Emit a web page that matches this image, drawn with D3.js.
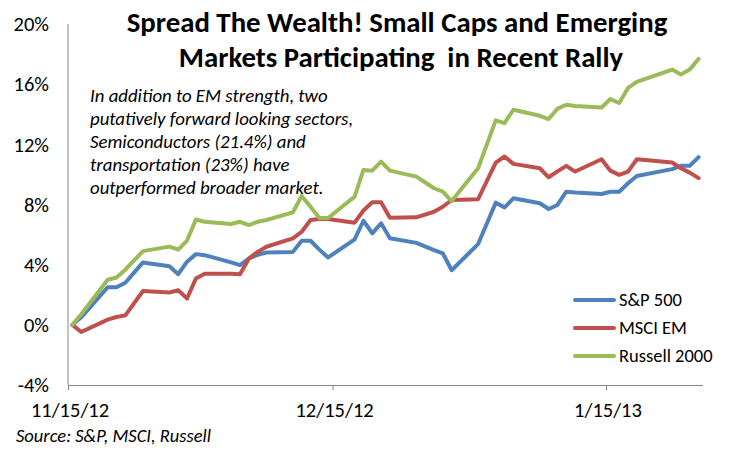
<!DOCTYPE html>
<html>
<head>
<meta charset="utf-8">
<script src="https://cdn.jsdelivr.net/npm/d3@7"></script>
<style>
  html, body { margin: 0; padding: 0; background: #fff; }
  svg { display: block; }
  text { font-family: Carlito, Calibri, Lato, "Open Sans", sans-serif; }
</style>
</head>
<body>
<svg id="chart" width="750" height="451"></svg>
<script>
// ---- data ----
const dates = ["2012-11-15","2012-11-16","2012-11-19","2012-11-20","2012-11-21","2012-11-23",
  "2012-11-26","2012-11-27","2012-11-28","2012-11-29","2012-11-30",
  "2012-12-03","2012-12-04","2012-12-05","2012-12-06","2012-12-07",
  "2012-12-10","2012-12-11","2012-12-12","2012-12-13","2012-12-14",
  "2012-12-17","2012-12-18","2012-12-19","2012-12-20","2012-12-21",
  "2012-12-24","2012-12-26","2012-12-27","2012-12-28","2012-12-31",
  "2013-01-02","2013-01-03","2013-01-04","2013-01-07","2013-01-08","2013-01-09","2013-01-10","2013-01-11",
  "2013-01-14","2013-01-15","2013-01-16","2013-01-17","2013-01-18",
  "2013-01-22","2013-01-23","2013-01-24","2013-01-25"];

const sp500 = [0, 0.5, 2.5, 2.5, 2.8, 4.15,
  3.9, 3.37, 4.2, 4.7, 4.63,
  4.15, 3.97, 4.41, 4.65, 4.81,
  4.85, 5.59, 5.59, 5.0, 4.48,
  5.68, 6.92, 6.08, 6.75, 5.75,
  5.45, 4.97, 4.75, 3.63, 5.37,
  8.12, 7.81, 8.41, 8.08, 7.7, 7.97, 8.85, 8.8,
  8.7, 8.85, 8.85, 9.41, 9.9,
  10.35, 10.57, 10.57, 11.15];

const msciEM = [0, -0.48, 0.35, 0.52, 0.63, 2.25,
  2.15, 2.3, 1.75, 3.08, 3.4,
  3.4, 3.37, 4.4, 4.85, 5.19,
  5.75, 6.19, 6.97, 7.03, 7.03,
  6.79, 7.6, 8.15, 8.15, 7.12,
  7.15, 7.52, 7.85, 8.3, 8.35,
  10.79, 11.19, 10.7, 10.41, 9.81, 10.2, 10.57, 10.19,
  11.01, 10.25, 9.97, 10.19, 11.01,
  10.79, 10.41, 10.12, 9.75];

const russell2000 = [0, 0.7, 3.0, 3.15, 3.67, 4.9,
  5.2, 5.0, 5.6, 7.0, 6.85,
  6.7, 6.85, 6.63, 6.85, 6.97,
  7.48, 8.57, 7.85, 7.1, 7.1,
  8.52, 10.3, 10.25, 10.85, 10.25,
  9.85, 9.08, 8.85, 8.23, 10.41,
  13.59, 13.41, 14.3, 13.9, 13.68, 14.37, 14.63, 14.55,
  14.45, 15.01, 14.75, 15.75, 16.15,
  16.97, 16.65, 16.97, 17.68];

const seriesNames = ["S&P 500", "MSCI EM", "Russell 2000"];
const seriesColors = ["#4F81BD", "#C0504D", "#9BBB59"];
const yTicks = [-4, 0, 4, 8, 12, 16, 20];
const xTickDates = ["2012-11-15", "2012-12-15", "2013-01-15"];
const xTickLabels = ["11/15/12", "12/15/12", "1/15/13"];
const titleLines = ["Spread The Wealth! Small Caps and Emerging", "Markets Participating  in Recent Rally"];
const noteLines = ["In addition to EM strength, two", "putatively forward looking sectors,",
  "Semiconductors (21.4%) and", "transportation (23%) have", "outperformed broader market."];
const sourceText = "Source: S&P, MSCI, Russell";

// ---- chart ----
const parse = d3.utcParse("%Y-%m-%d");
const HALF_DAY = 12 * 3600 * 1000;
const svg = d3.select("#chart");

const x = d3.scaleUtc()
  .domain([parse("2012-11-15"), parse("2013-01-26")])
  .range([68, 703]);
const y = d3.scaleLinear().domain([-4, 20]).range([385, 24]);

const axisColor = "#868686";

// y axis line
svg.append("line").attr("x1", 68).attr("x2", 68).attr("y1", y(20)).attr("y2", y(-4))
  .attr("stroke", axisColor).attr("stroke-width", 1);

// y tick labels
svg.append("g").selectAll("text").data(yTicks).join("text")
  .attr("x", 49).attr("y", d => y(d)).attr("dy", "0.35em")
  .attr("text-anchor", "end").attr("font-size", 20.5).attr("fill", "#000")
  .text(d => d + "%");

// x axis
const xAxis = d3.axisBottom(x)
  .tickValues(xTickDates.map(parse))
  .tickSize(5).tickFormat("");
const gx = svg.append("g").attr("transform", `translate(0,${y(-4)})`).call(xAxis);
gx.select(".domain").attr("stroke", axisColor).attr("d", `M68,0.5H703`);
gx.selectAll(".tick line").attr("stroke", axisColor);

svg.append("g").selectAll("text").data(xTickDates).join("text")
  .attr("x", (d) => x(parse(d)) + 2)
  .attr("y", 417).attr("text-anchor", "middle").attr("font-size", 20.5)
  .text((d, i) => xTickLabels[i]);

// lines (series order: blue, red, green on top)
const allSeries = [sp500, msciEM, russell2000];
const line = d3.line()
  .x((d, i) => x(new Date(parse(dates[i]).getTime() + HALF_DAY)))
  .y(d => y(d));
allSeries.forEach((s, k) => {
  svg.append("path").datum(s)
    .attr("d", line)
    .attr("fill", "none")
    .attr("stroke", seriesColors[k])
    .attr("stroke-width", 4)
    .attr("stroke-linejoin", "round")
    .attr("stroke-linecap", "round");
});

// title
svg.append("g").selectAll("text").data(titleLines).join("text")
  .attr("x", (d, i) => i === 0 ? 397 : 401).attr("y", (d, i) => 32 + i * 35)
  .attr("text-anchor", "middle").attr("font-size", 28.8).attr("font-weight", "bold")
  .style("white-space", "pre")
  .text(d => d);

// annotation
svg.append("g").selectAll("text").data(noteLines).join("text")
  .attr("x", 90).attr("y", (d, i) => 101.5 + i * 23.2)
  .attr("font-size", 18.8).attr("font-style", "italic")
  .text(d => d);

// legend
const legY = [300, 328, 356];
const leg = svg.append("g");
seriesNames.forEach((n, k) => {
  leg.append("line").attr("x1", 575).attr("x2", 614).attr("y1", legY[k]).attr("y2", legY[k])
    .attr("stroke", seriesColors[k]).attr("stroke-width", 4).attr("stroke-linecap", "round");
  leg.append("text").attr("x", 619).attr("y", legY[k]).attr("dy", "0.35em")
    .attr("font-size", 18.5).text(n);
});

// source
svg.append("text").attr("x", 16).attr("y", 442).attr("font-size", 18.5)
  .attr("font-style", "italic").text(sourceText);
</script>
</body>
</html>
